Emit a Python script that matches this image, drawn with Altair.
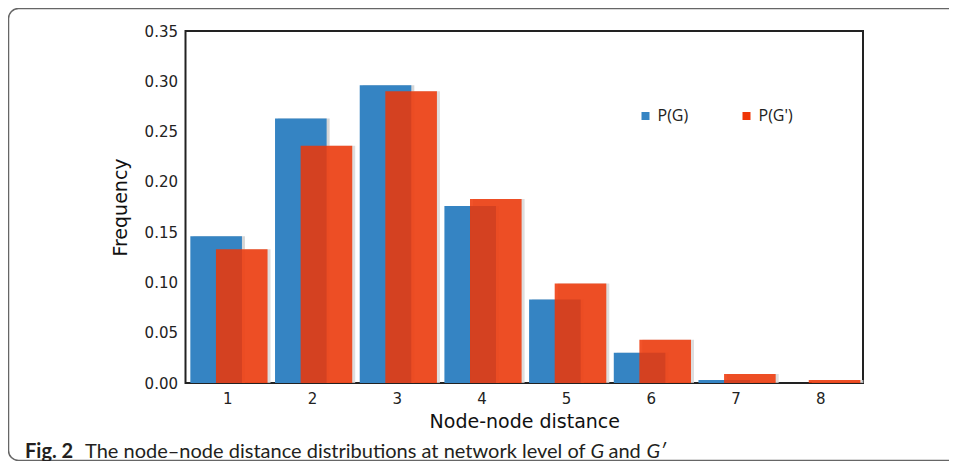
import altair as alt
import pandas as pd

# ---- data ----
distance = [1, 2, 3, 4, 5, 6, 7, 8]
p_g = [0.146, 0.263, 0.296, 0.176, 0.083, 0.030, 0.003, 0.0]
p_g2 = [0.133, 0.236, 0.290, 0.183, 0.099, 0.043, 0.009, 0.003]
series_names = ["P(G)", "P(G')"]
y_ticks = [0.0, 0.05, 0.10, 0.15, 0.20, 0.25, 0.30, 0.35]
x_title = "Node-node distance"
y_title = "Frequency"
cap_bold = "Fig. 2"
cap_main = "The node\u2013node distance distributions at network level of"
cap_g1 = "G"
cap_and = "and"
cap_g2 = "G\u2032"

BLUE = "#3584c3"
RED = "#ef3506"
SHADOW = "#d6d6d6"

df = pd.DataFrame({
    "distance": distance * 2,
    "series": [series_names[0]] * len(distance) + [series_names[1]] * len(distance),
    "freq": p_g + p_g2,
})

W, H = 677.5, 352
BAR_W = 51.6
OFF_B, OFF_R = -11.7, 13.9

x = alt.X("distance:O",
          scale=alt.Scale(paddingInner=0, paddingOuter=0),
          axis=alt.Axis(title=x_title, labelAngle=0, ticks=False, tickSize=0,
                        domain=False, labelPadding=8, titlePadding=6))
y = alt.Y("freq:Q",
          scale=alt.Scale(domain=[0, 0.35], nice=False, zero=True),
          axis=alt.Axis(title=y_title, values=y_ticks, format=".2f", grid=False,
                        ticks=False, tickSize=0, domain=False, labelPadding=8,
                        titlePadding=14))
color = alt.Color("series:N",
                  scale=alt.Scale(domain=series_names, range=[BLUE, RED]),
                  legend=alt.Legend(title=None, orient="none", legendX=452, legendY=77,
                                    direction="horizontal", symbolType="square",
                                    symbolSize=64, symbolStrokeWidth=0,
                                    symbolOpacity=1,
                                    labelFont="Open Sans", labelFontSize=16,
                                    labelColor="#222", labelOffset=4,
                                    columnPadding=50))

base = alt.Chart(df)
blue_f = alt.datum.series == series_names[0]
red_f = alt.datum.series == series_names[1]

red_shadow = base.transform_filter(red_f).mark_bar(
    width=BAR_W, xOffset=OFF_R + 3, color=SHADOW, opacity=0.8).encode(x=x, y=y)
blue_shadow = base.transform_filter(blue_f).mark_bar(
    width=BAR_W, xOffset=OFF_B + 3, color=SHADOW).encode(x=x, y=y)
blue = base.transform_filter(blue_f).mark_bar(
    width=BAR_W, xOffset=OFF_B).encode(x=x, y=y, color=color)
red = base.transform_filter(red_f).mark_bar(
    width=BAR_W, xOffset=OFF_R, opacity=0.86).encode(x=x, y=y, color=color)

# ---- figure frame and caption (annotations) ----
one = pd.DataFrame({"k": [0]})
frame = alt.Chart(one).mark_rect(
    fill=None, stroke="#666", strokeWidth=1.5, cornerRadius=10).encode(
    x=alt.value(-177), x2=alt.value(800), y=alt.value(-22.5), y2=alt.value(429.5))

CAP_Y = 427
cap_font = "Lato"
cap_size = 20
t_bold = alt.Chart(one).mark_text(
    align="left", baseline="alphabetic", font=cap_font, fontSize=cap_size,
    fontWeight="bold", color="#231f20").encode(
    x=alt.value(-160.5), y=alt.value(CAP_Y), text=alt.value(cap_bold))
t_main = alt.Chart(one).mark_text(
    align="left", baseline="alphabetic", font=cap_font, fontSize=cap_size,
    color="#231f20").encode(
    x=alt.value(-100.5), y=alt.value(CAP_Y), text=alt.value(cap_main))
t_g1 = alt.Chart(one).mark_text(
    align="left", baseline="alphabetic", font=cap_font, fontSize=cap_size,
    fontStyle="italic", color="#231f20").encode(
    x=alt.value(405), y=alt.value(CAP_Y), text=alt.value(cap_g1))
t_and = alt.Chart(one).mark_text(
    align="left", baseline="alphabetic", font=cap_font, fontSize=cap_size,
    color="#231f20").encode(
    x=alt.value(423), y=alt.value(CAP_Y), text=alt.value(cap_and))
t_g2 = alt.Chart(one).mark_text(
    align="left", baseline="alphabetic", font=cap_font, fontSize=cap_size,
    fontStyle="italic", color="#231f20").encode(
    x=alt.value(461), y=alt.value(CAP_Y), text=alt.value(cap_g2))

chart = alt.layer(
    frame, red_shadow, blue_shadow, blue, red, t_bold, t_main, t_g1, t_and, t_g2
).resolve_scale(color="shared").properties(
    width=W, height=H,
    padding={"left": 177.5, "top": 23, "right": 86, "bottom": 78},
    autosize=alt.AutoSizeParams(type="none"),
).configure_view(
    stroke="#222", strokeWidth=2
).configure_axis(
    labelFont="DejaVu Sans", labelFontSize=15, labelColor="#222",
    titleFont="DejaVu Sans", titleFontSize=19, titleFontWeight="normal",
    titleColor="#111"
)

chart.save("out.html", embed_options={"renderer": "svg", "actions": False})
